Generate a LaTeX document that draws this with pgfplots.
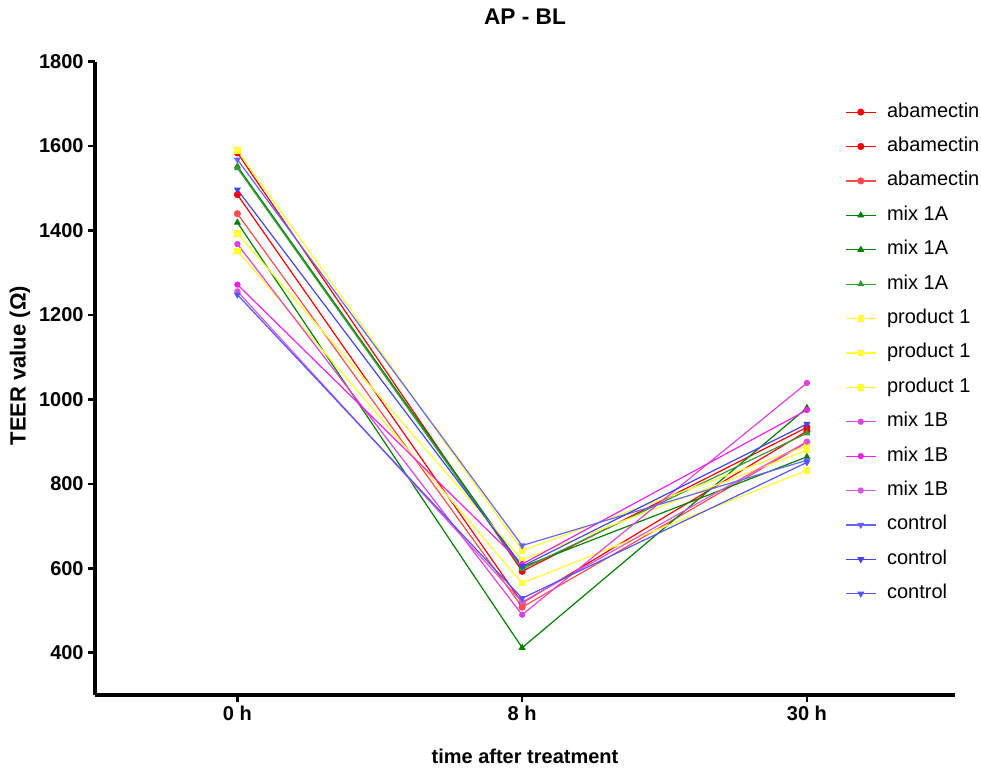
\documentclass[border=0pt]{standalone}
\usepackage{fontspec}
\setmainfont{Liberation Sans}
\usepackage{pgfplots}
\pgfplotsset{compat=1.18}
\definecolor{cred}{HTML}{FF0000}
\definecolor{cred3}{HTML}{FF4D4D}
\definecolor{cgreen}{HTML}{008000}
\definecolor{cgreen3}{HTML}{3A9A3A}
\definecolor{cyel}{HTML}{FFFF33}
\definecolor{cmag1}{HTML}{DD44DD}
\definecolor{cmag2}{HTML}{EE22EE}
\definecolor{cmag3}{HTML}{DD55DD}
\definecolor{cblue1}{HTML}{6666FF}
\definecolor{cblue2}{HTML}{4444EE}
\definecolor{cblue3}{HTML}{5555F5}
\begin{document}
\begin{tikzpicture}
\begin{axis}[
  at={(0,0)}, anchor=south west,
  scale only axis, width=645pt, height=475pt,
  xmin=-0.5, xmax=2.52, ymin=300, ymax=1800,
  axis x line=bottom, axis y line=left,
  axis line style={-, line width=2.6pt, black},
  x axis line style={-, line width=2.6pt, black},
  y axis line style={-, line width=2.6pt, black},
  xtick={0,1,2}, xticklabels={0 h, 8 h, 30 h},
  ytick={400,600,800,1000,1200,1400,1600,1800},
  tick align=outside, major tick length=5pt,
  tick style={line width=2pt, black},
  /pgf/number format/assume math mode=true,
  /pgf/number format/1000 sep={},
  ticklabel style={font=\bfseries\fontsize{15}{17}\selectfont},
  title={AP - BL},
  title style={at={(axis description cs:0.5,1.058)}, anchor=center, font=\bfseries\fontsize{17}{19}\selectfont},
  xlabel={time after treatment},
  xlabel style={at={(axis description cs:0.5,-0.0963)}, anchor=center, font=\bfseries\fontsize{15}{17}\selectfont},
  ylabel={TEER value (Ω)},
  ylabel style={at={(axis description cs:-0.0872,0.52)}, anchor=center, font=\bfseries\fontsize{16.5}{18}\selectfont},
  legend cell align=left,
  legend style={at={(axis description cs:0.872,0.935)}, anchor=north west, draw=none, fill=none,
    inner sep=0pt, row sep=12.3pt, column sep=8pt,
    nodes={inner sep=0pt, text height=10.5pt, text depth=3pt},
    font=\fontsize{15}{17}\selectfont},
  legend image code/.code={\draw[mark repeat=2,mark phase=2] plot coordinates {(0pt,0pt) (11.25pt,0pt) (22.5pt,0pt)};},
  every axis plot/.append style={line width=0.9pt, mark size=2.2pt},
]
\addplot[cred, mark=*] coordinates {(0,1584) (1,593) (2,934)};
\addlegendentry{abamectin}
\addplot[cred, mark=*] coordinates {(0,1485) (1,518) (2,925)};
\addlegendentry{abamectin}
\addplot[cred3, mark=*] coordinates {(0,1440) (1,508) (2,898)};
\addlegendentry{abamectin}
\addplot[cgreen, mark=triangle*] coordinates {(0,1552) (1,603) (2,864)};
\addlegendentry{mix 1A}
\addplot[cgreen, mark=triangle*] coordinates {(0,1419) (1,412) (2,980)};
\addlegendentry{mix 1A}
\addplot[cgreen3, mark=triangle*] coordinates {(0,1548) (1,598) (2,920)};
\addlegendentry{mix 1A}
\addplot[cyel, mark=square*, mark size=2pt] coordinates {(0,1590) (1,642) (2,890)};
\addlegendentry{product 1}
\addplot[cyel, mark=square*, mark size=2pt] coordinates {(0,1393) (1,620) (2,880)};
\addlegendentry{product 1}
\addplot[cyel, mark=square*, mark size=2pt] coordinates {(0,1352) (1,565) (2,832)};
\addlegendentry{product 1}
\addplot[cmag1, mark=*, mark size=1.9pt] coordinates {(0,1368) (1,490) (2,1039)};
\addlegendentry{mix 1B}
\addplot[cmag2, mark=*, mark size=1.9pt] coordinates {(0,1272) (1,610) (2,975)};
\addlegendentry{mix 1B}
\addplot[cmag3, mark=*, mark size=1.9pt] coordinates {(0,1256) (1,520) (2,900)};
\addlegendentry{mix 1B}
\addplot[cblue1, mark=triangle*, mark options={rotate=180}] coordinates {(0,1568) (1,654) (2,856)};
\addlegendentry{control}
\addplot[cblue2, mark=triangle*, mark options={rotate=180}] coordinates {(0,1497) (1,605) (2,942)};
\addlegendentry{control}
\addplot[cblue3, mark=triangle*, mark options={rotate=180}] coordinates {(0,1248) (1,529) (2,851)};
\addlegendentry{control}
\end{axis}
\pgfresetboundingbox
\path (-71.25pt,-57pt) rectangle (664.5pt,521.25pt);
\end{tikzpicture}
\end{document}
